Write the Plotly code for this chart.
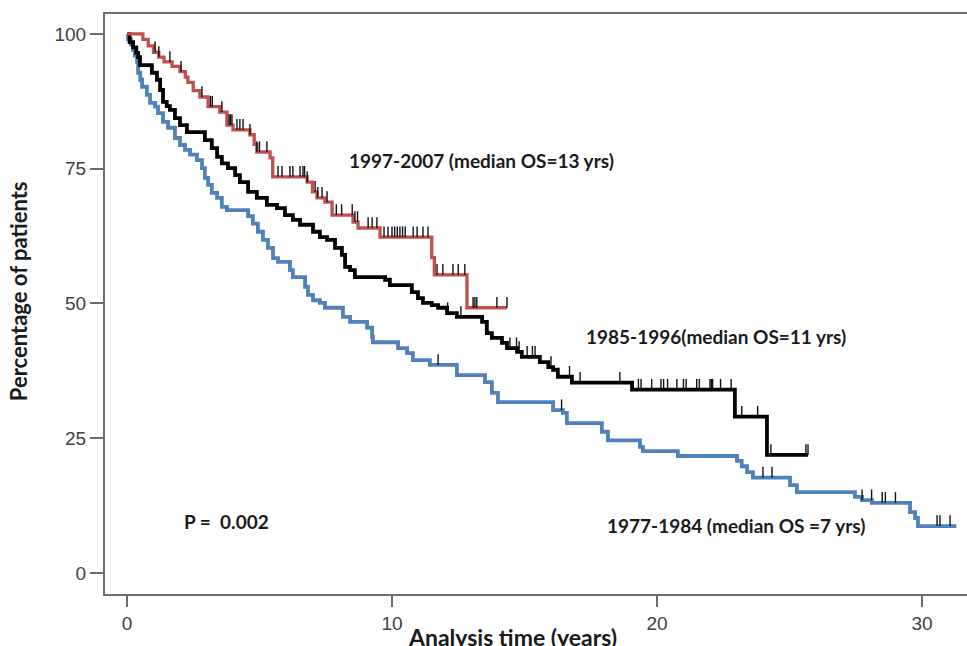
import numpy as np
import plotly.graph_objects as go

# ---------------- data ----------------
# 1997-2007 cohort (red)
red_t = [0.6, 0.8, 1.0, 1.2, 1.4, 1.7, 2.0, 2.2, 2.3, 2.5, 2.75, 3.06, 3.5, 3.77, 4.0,
         4.64, 4.8, 4.9, 5.4, 5.5, 6.8, 7.0, 7.17, 7.47, 7.74, 8.53, 8.72, 9.55, 11.5,
         11.6, 12.83]
red_s = [99, 97.8, 96.6, 95.7, 94.8, 94, 93, 92, 91, 89.5, 88.3, 86.5, 85.5, 83.1, 82.2,
         81.3, 79.5, 78.1, 77, 73.5, 72.5, 70.7, 69.6, 68.8, 66.4, 65.1, 64, 62.3, 58.5,
         55.3, 49.2]
red_end = 14.34
red_cens = [1.06, 1.2, 1.62, 2.04, 2.83, 3.15, 3.22, 3.58, 3.85, 3.9, 3.96, 4.15, 4.26,
            4.38, 4.64, 4.9, 5.0, 5.28, 5.7, 5.85, 6.15, 6.26, 6.53, 6.64, 6.7, 6.8,
            7.1, 7.2, 7.36, 7.55, 7.9, 8.1, 8.5, 8.6, 8.7, 9.1, 9.25, 9.43, 9.7, 9.85,
            10.0, 10.1, 10.2, 10.3, 10.4, 10.5, 10.8, 10.95, 11.17, 11.36, 11.7, 11.92,
            12.3, 12.5, 12.75, 13.06, 13.13, 13.2, 13.96, 14.34]

# 1985-1996 cohort (black)
blk_t = [0.1, 0.23, 0.35, 0.42, 0.49, 0.94, 1.13, 1.25, 1.36, 1.5, 1.62, 1.81, 2.0, 2.26,
         2.94, 3.2, 3.4, 3.58, 3.81, 4.08, 4.26, 4.57, 4.9, 5.28, 5.66, 5.96, 6.26, 6.53,
         7.02, 7.28, 7.55, 7.85, 8.11, 8.23, 8.42, 8.6, 9.74, 9.92, 10.75, 10.98, 11.17,
         11.5, 11.74, 12.08, 12.45, 13.4, 13.58, 13.77, 14.15, 14.34, 14.72, 14.9, 15.58,
         15.9, 16.08, 16.26, 16.79, 19.06, 22.94, 24.15]
blk_s = [98.5, 97.5, 96.5, 95.7, 94.2, 92.8, 91.5, 89.6, 87.4, 86.6, 85.9, 84.4, 83.1, 81.8,
         80.3, 78.8, 77.2, 76, 75.1, 73.8, 72.5, 70.7, 69.6, 68.3, 67.7, 66.4, 65.5, 64.6,
         63.3, 62.3, 61.8, 60.3, 59, 56.8, 56.2, 54.9, 54.4, 53.4, 52.1, 51, 50.1,
         49.7, 49.2, 48.2, 47.5, 46.6, 44.5, 43.6, 42.7, 41.7, 41, 40.1, 39.1,
         38.2, 37.7, 36.4, 35.3, 34, 29, 21.9]
blk_end = 25.7
blk_cens = [12.1, 12.6, 14.45, 14.7, 14.8, 15.1, 15.3, 15.4, 16.0, 16.7, 17.1, 18.6, 19.3,
            19.4, 19.8, 20.15, 20.25, 20.4, 20.75, 21.0, 21.1, 21.5, 21.6, 22.0, 22.05,
            22.1, 22.4, 22.8, 23.2, 23.8, 24.3, 25.62, 25.7]

# 1977-1984 cohort (blue)
blu_t = [0.04, 0.15, 0.23, 0.3, 0.38, 0.42, 0.5, 0.57, 0.75, 0.87, 1.06, 1.17, 1.36, 1.55,
         1.81, 2.0, 2.19, 2.38, 2.64, 2.83, 2.94, 3.06, 3.2, 3.4, 3.58, 3.77, 4.57, 4.75,
         4.94, 5.13, 5.32, 5.51, 5.7, 6.15, 6.26, 6.72, 6.83, 7.02, 7.28, 7.47, 8.15, 8.42,
         9.06, 9.25, 9.28, 10.23, 10.57, 10.79, 11.43, 12.45, 13.51, 13.77, 14.0, 16.08,
         16.45, 16.6, 17.92, 18.15, 19.36, 19.47, 20.79, 23.02, 23.2, 23.4, 23.62, 25.02,
         25.28, 27.47, 27.74, 28.11, 29.55, 29.74, 29.85]
blu_s = [99, 98, 97, 96, 94.8, 92.8, 91.5, 90.2, 88.7, 87.2, 86.5, 85.3, 83.7, 82.6,
         80.7, 79.4, 78.5, 77.6, 76.6, 75.1, 73.3, 72, 70.5, 69.6, 67.9, 67.3, 66.2, 64.8,
         63.3, 61.8, 60.3, 58.4, 57.7, 56.2, 54.9, 53.1, 51.6, 50.6, 50.1, 49.2, 47.5, 46.6,
         45.5, 43.8, 42.8, 41.7, 40.8, 39.5, 38.6, 36.7, 35.4, 33.4, 31.7, 30.2,
         29.7, 27.8, 26.2, 24.6, 23.4, 22.6, 21.7, 20.8, 19.8, 18.7, 17.7, 16.3,
         15, 14.1, 13.5, 13, 11.3, 10.2, 8.7]
blu_end = 31.3
blu_cens = [11.74, 16.4, 24.0, 24.34, 27.74, 28.1, 28.5, 28.62, 29.0, 30.57, 30.68, 31.06]

x_ticks = [0, 10, 20, 30]
y_ticks = [0, 25, 50, 75, 100]

labels = {
    "red": "1997-2007 (median OS=13 yrs)",
    "blk": "1985-1996(median OS=11 yrs)",
    "blu": "1977-1984 (median OS =7 yrs)",
}
p_text = "P = &nbsp;0.002"

# ---------------- figure ----------------
fig = go.Figure()


def step_value(times, surv, t):
    idx = np.searchsorted(np.array(times), t, side="right") - 1
    return 100.0 if idx < 0 else surv[idx]


def add_curve(times, surv, end, cens, color, width):
    xs = [0] + list(times) + [end]
    ys = [100] + list(surv) + [surv[-1]]
    fig.add_trace(go.Scatter(x=xs, y=ys, mode="lines", line=dict(color=color, width=width, shape="hv"),
                             showlegend=False, hoverinfo="skip"))
    cx, cy = [], []
    for c in cens:
        v = step_value(times, surv, c)
        cx += [c, c, None]
        cy += [v, v + 2.0, None]
    fig.add_trace(go.Scatter(x=cx, y=cy, mode="lines", line=dict(color="#111111", width=1.4),
                             showlegend=False, hoverinfo="skip"))


add_curve(blu_t, blu_s, blu_end, blu_cens, "#4f81bd", 3.8)
add_curve(blk_t, blk_s, blk_end, blk_cens, "#000000", 3.8)
add_curve(red_t, red_s, red_end, red_cens, "#c0504d", 3.3)

ann_font = dict(family="Lato, Open Sans, sans-serif", size=19, color="#1a1a1a")
fig.add_annotation(x=8.3, y=76.5, text="<b>" + labels["red"] + "</b>", showarrow=False,
                   xanchor="left", yanchor="middle", font=ann_font)
fig.add_annotation(x=17.25, y=43.8, text="<b>" + labels["blk"] + "</b>", showarrow=False,
                   xanchor="left", yanchor="middle", font=ann_font)
fig.add_annotation(x=18.05, y=8.9, text="<b>" + labels["blu"] + "</b>", showarrow=False,
                   xanchor="left", yanchor="middle", font=ann_font)
fig.add_annotation(x=2.08, y=9.6, text="<b>" + p_text + "</b>", showarrow=False,
                   xanchor="left", yanchor="middle", font=ann_font)

# axis titles
fig.add_annotation(xref="paper", yref="paper", x=-0.101, y=0.522, text="<b>Percentage of patients</b>",
                   textangle=-90, showarrow=False, xanchor="center", yanchor="middle",
                   font=dict(family="Lato, Open Sans, sans-serif", size=22, color="#1a1a1a"))
fig.add_annotation(xref="paper", yref="paper", x=0.473, y=-0.074, text="<b>Analysis time (years)</b>",
                   showarrow=False, xanchor="center", yanchor="middle",
                   font=dict(family="Lato, Open Sans, sans-serif", size=23, color="#1a1a1a"))

axis_common = dict(showgrid=False, zeroline=False, showline=True, linecolor="#6e6e6e", linewidth=2,
                   ticks="outside", tickcolor="#6e6e6e", tickwidth=1.5,
                   tickfont=dict(family="Liberation Sans, Arial, sans-serif", size=19, color="#404040"))

fig.update_xaxes(range=[-0.83, 31.7], tickvals=x_ticks, ticklen=11, mirror=True, **axis_common)
fig.update_yaxes(range=[-3.9, 103.7], tickvals=y_ticks, ticklen=13, mirror=False, **axis_common)

fig.update_layout(width=967, height=646, margin=dict(l=105, r=0, t=14, b=52),
                  plot_bgcolor="white", paper_bgcolor="white")

fig.write_html("out.html", config={"displayModeBar": False},
               post_script="document.body.style.margin='0';")
